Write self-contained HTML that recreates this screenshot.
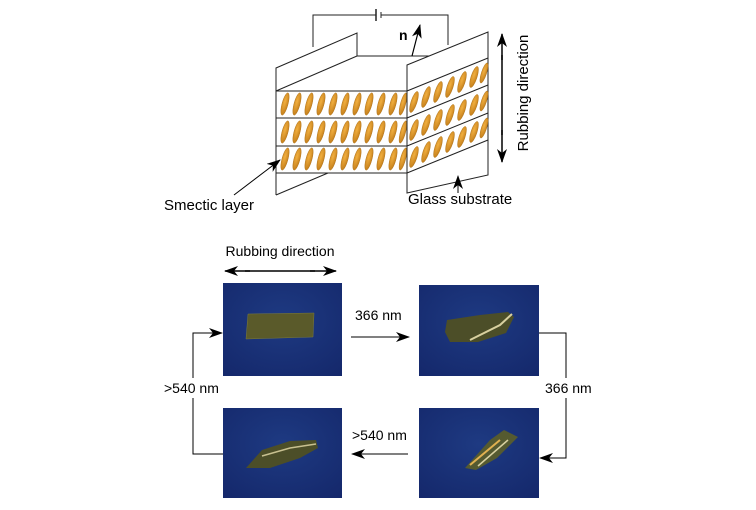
<!DOCTYPE html>
<html><head><meta charset="utf-8"><style>
html,body{margin:0;padding:0;background:#fff;}
svg{display:block;font-family:"Liberation Sans",sans-serif;}
</style></head><body>
<svg width="756" height="510" viewBox="0 0 756 510" xmlns="http://www.w3.org/2000/svg">
<defs>
<marker id="ah" markerWidth="14" markerHeight="10" refX="13" refY="5" orient="auto" markerUnits="userSpaceOnUse"><path d="M0,0 L14,5 L0,10 L4,5 Z" fill="#000"/></marker>
<radialGradient id="mol" cx="0.4" cy="0.4" r="0.7"><stop offset="0" stop-color="#f2b040"/><stop offset="1" stop-color="#c07a18"/></radialGradient>
<radialGradient id="bg" cx="0.5" cy="0.4" r="0.8"><stop offset="0" stop-color="#1e3a82"/><stop offset="1" stop-color="#14276a"/></radialGradient>
</defs>
<g stroke="#222" stroke-width="1" fill="none">
<polyline points="313,47 313,15 376,15"/>
<polyline points="381,15 448,15 448,45"/>
<line x1="376" y1="9" x2="376" y2="21" stroke-width="1.5"/>
<line x1="381" y1="12" x2="381" y2="18"/>
<polyline points="276,195 276,68 357,33 357,56"/>
<line x1="276" y1="195" x2="328" y2="173"/>
<line x1="357" y1="56" x2="488" y2="56"/>
<line x1="276" y1="91" x2="357" y2="56"/>
<line x1="276" y1="91" x2="407" y2="91"/>
<line x1="276" y1="118" x2="407" y2="118"/>
<line x1="276" y1="146" x2="407" y2="146"/>
<line x1="276" y1="173" x2="407" y2="173"/>
</g>
<g fill="url(#mol)" stroke="#a86a10" stroke-width="0.4">
<g id="row">
<ellipse cx="285" cy="104" rx="3" ry="11.5" transform="rotate(15 285 104)"/>
<ellipse cx="297" cy="104" rx="3" ry="11.5" transform="rotate(15 297 104)"/>
<ellipse cx="309" cy="104" rx="3" ry="11.5" transform="rotate(15 309 104)"/>
<ellipse cx="321" cy="104" rx="3" ry="11.5" transform="rotate(15 321 104)"/>
<ellipse cx="333" cy="104" rx="3" ry="11.5" transform="rotate(15 333 104)"/>
<ellipse cx="345" cy="104" rx="3" ry="11.5" transform="rotate(15 345 104)"/>
<ellipse cx="357" cy="104" rx="3" ry="11.5" transform="rotate(15 357 104)"/>
<ellipse cx="369" cy="104" rx="3" ry="11.5" transform="rotate(15 369 104)"/>
<ellipse cx="381" cy="104" rx="3" ry="11.5" transform="rotate(15 381 104)"/>
<ellipse cx="393" cy="104" rx="3" ry="11.5" transform="rotate(15 393 104)"/>
<ellipse cx="403" cy="104" rx="2.6" ry="11.5" transform="rotate(15 403 104)"/>
</g>
<use href="#row" y="28"/>
<use href="#row" y="55"/>
</g>
<g stroke="#222" stroke-width="1" fill="none">
<polygon points="407,65 488,32 488,175 407,193" fill="#fff"/>
<line x1="407" y1="91" x2="488" y2="58"/>
<line x1="407" y1="118" x2="488" y2="85"/>
<line x1="407" y1="146" x2="488" y2="113"/>
<line x1="407" y1="173" x2="488" y2="140"/>
</g>
<g fill="url(#mol)" stroke="#a86a10" stroke-width="0.4">
<g id="srow">
<ellipse cx="414" cy="102" rx="3" ry="11" transform="rotate(18 414 102)"/>
<ellipse cx="426" cy="97" rx="3" ry="11" transform="rotate(18 426 97)"/>
<ellipse cx="438" cy="92" rx="3" ry="11" transform="rotate(18 438 92)"/>
<ellipse cx="450" cy="87" rx="3" ry="11" transform="rotate(18 450 87)"/>
<ellipse cx="462" cy="82" rx="3" ry="11" transform="rotate(18 462 82)"/>
<ellipse cx="474" cy="77" rx="3" ry="11" transform="rotate(18 474 77)"/>
<ellipse cx="484" cy="73" rx="2.6" ry="10.5" transform="rotate(18 484 73)"/>
</g>
<use href="#srow" y="28"/>
<use href="#srow" y="55"/>
</g>
<line x1="412" y1="56" x2="420" y2="25" stroke="#000" stroke-width="1.2" marker-end="url(#ah)"/>
<text x="399" y="40" font-size="14" font-weight="bold">n</text>
<line x1="502" y1="60" x2="502" y2="34" stroke="#000" stroke-width="1.5" marker-end="url(#ah)"/>
<line x1="502" y1="130" x2="502" y2="162" stroke="#000" stroke-width="1.5" marker-end="url(#ah)"/>
<line x1="502" y1="55" x2="502" y2="135" stroke="#000" stroke-width="1.5"/>
<text transform="translate(528,93) rotate(-90)" font-size="15" text-anchor="middle">Rubbing direction</text>
<text x="164" y="210" font-size="15">Smectic layer</text>
<line x1="234" y1="195" x2="280" y2="160" stroke="#000" stroke-width="1" marker-end="url(#ah)"/>
<text x="408" y="204" font-size="15">Glass substrate</text>
<line x1="458" y1="193" x2="458" y2="176" stroke="#000" stroke-width="1" marker-end="url(#ah)"/>

<text x="280" y="256" font-size="14" text-anchor="middle">Rubbing direction</text>
<line x1="250" y1="271" x2="225" y2="271" stroke="#000" stroke-width="1.5" marker-end="url(#ah)"/>
<line x1="310" y1="271" x2="336" y2="271" stroke="#000" stroke-width="1.5" marker-end="url(#ah)"/>
<line x1="245" y1="271" x2="315" y2="271" stroke="#000" stroke-width="1.5"/>

<rect x="223" y="283" width="119" height="93" fill="url(#bg)"/>
<rect x="419" y="285" width="120" height="91" fill="url(#bg)"/>
<rect x="223" y="408" width="119" height="90" fill="url(#bg)"/>
<rect x="419" y="408" width="120" height="90" fill="url(#bg)"/>
<polygon points="248,314 314,313 313,337 246,339" fill="#5a5a2a" stroke="#7a7a40" stroke-width="0.5"/>
<polygon points="447,320 480,315 508,312 514,317 506,333 478,342 450,342 445,332" fill="#4c4e28"/>
<polyline points="470,340 500,325 512,314" stroke="#d8d0a0" stroke-width="2" fill="none"/>
<polygon points="246,468 262,450 290,441 316,440 318,448 300,458 270,468" fill="#4c4e28"/>
<polyline points="262,456 290,448 316,444" stroke="#c8c090" stroke-width="1.5" fill="none"/>
<polygon points="465,468 490,440 504,430 518,437 497,458 476,470" fill="#555a30"/>
<polyline points="470,465 500,440" stroke="#e0b050" stroke-width="2" fill="none"/>
<polyline points="478,466 508,440" stroke="#d8d0a0" stroke-width="1.5" fill="none"/>
<text x="355" y="320" font-size="14">366 nm</text>
<line x1="351" y1="337" x2="409" y2="337" stroke="#000" stroke-width="1" marker-end="url(#ah)"/>
<polyline points="539,333 566,333 566,458 540,458" stroke="#000" stroke-width="1" fill="none" marker-end="url(#ah)"/>
<rect x="542" y="378" width="50" height="20" fill="#fff"/>
<text x="545" y="393" font-size="14">366 nm</text>
<text x="352" y="440" font-size="14">&gt;540 nm</text>
<line x1="408" y1="454" x2="352" y2="454" stroke="#000" stroke-width="1" marker-end="url(#ah)"/>
<polyline points="223,454 193,454 193,333 222,333" stroke="#000" stroke-width="1" fill="none" marker-end="url(#ah)"/>
<rect x="160" y="378" width="64" height="20" fill="#fff"/>
<text x="164" y="393" font-size="14">&gt;540 nm</text>
</svg>
</body></html>
